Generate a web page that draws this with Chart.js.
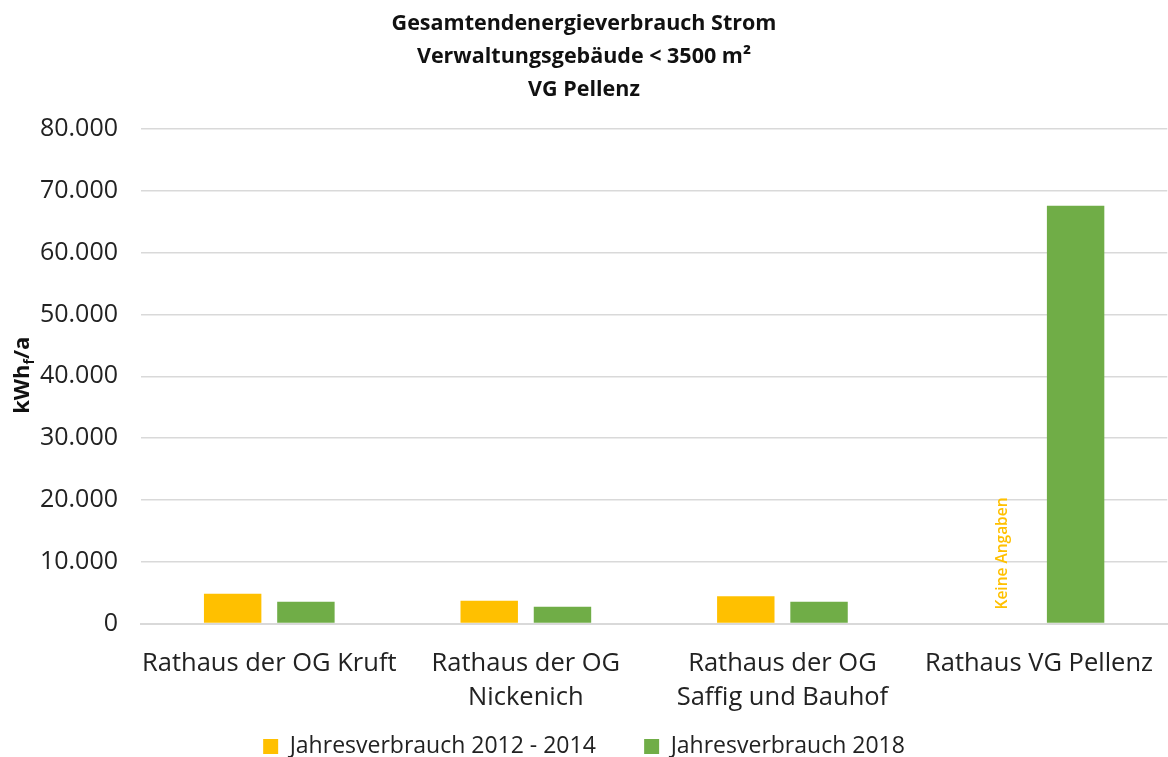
<!DOCTYPE html>
<html>
<head>
<meta charset="utf-8">
<script src="https://cdn.jsdelivr.net/npm/chart.js@4"></script>
<style>
  html, body { margin: 0; padding: 0; background: #fff; }
  #wrap { width: 1168px; height: 757px; }
</style>
</head>
<body>
<div id="wrap"><canvas id="chart" width="1168" height="757"></canvas></div>
<script>
const titleLines = ["Gesamtendenergieverbrauch Strom", "Verwaltungsgebäude < 3500 m²", "VG Pellenz"];
const categories = [
  ["Rathaus der OG Kruft"],
  ["Rathaus der OG", "Nickenich"],
  ["Rathaus der OG", "Saffig und Bauhof"],
  ["Rathaus VG Pellenz"]
];
const seriesNames = ["Jahresverbrauch 2012 - 2014", "Jahresverbrauch 2018"];
const verbrauch2012_2014 = [4800, 3700, 4400, null];
const verbrauch2018 = [3500, 2700, 3500, 67600];
const noDataText = "Keine Angaben";

const FONT = "'Open Sans', 'Liberation Sans', sans-serif";

// German thousands separator: 80000 -> 80.000
const fmt = (v) => String(v).replace(/\B(?=(\d{3})+(?!\d))/g, ".");

// y axis title with subscript f, drawn by hand
const axisTitle = {
  id: "axisTitle",
  afterDraw(chart) {
    const ctx = chart.ctx;
    const area = chart.chartArea;
    const cy = (area.top + area.bottom) / 2 - 1;
    ctx.save();
    ctx.translate(23, cy);
    ctx.rotate(-Math.PI / 2);
    ctx.fillStyle = "#111";
    ctx.textBaseline = "middle";
    const big = "bold 22px " + FONT, small = "bold 14px " + FONT;
    ctx.font = big;
    const w1 = ctx.measureText("kWh").width;
    const w3 = ctx.measureText("/a").width;
    ctx.font = small;
    const w2 = ctx.measureText("f").width;
    let x = -(w1 + w2 + w3) / 2;
    ctx.font = big;
    ctx.textAlign = "left";
    ctx.fillText("kWh", x, 0);
    x += w1;
    ctx.font = small;
    ctx.fillText("f", x, 7);
    x += w2;
    ctx.font = big;
    ctx.fillText("/a", x, 0);
    ctx.restore();
  }
};

// "Keine Angaben" where the first series has no value
const noDataLabel = {
  id: "noDataLabel",
  afterDatasetsDraw(chart) {
    const meta = chart.getDatasetMeta(0);
    const y0 = chart.scales.y.getPixelForValue(0);
    const ctx = chart.ctx;
    verbrauch2012_2014.forEach((v, i) => {
      if (v !== null) return;
      const el = meta.data[i];
      if (!el) return;
      ctx.save();
      ctx.translate(el.x, y0 - 14);
      ctx.rotate(-Math.PI / 2);
      ctx.font = "600 15.5px " + FONT;
      ctx.fillStyle = "#FFC000";
      ctx.textAlign = "left";
      ctx.textBaseline = "middle";
      ctx.fillText(noDataText, 0, 0);
      ctx.restore();
    });
  }
};

new Chart(document.getElementById("chart"), {
  type: "bar",
  data: {
    labels: categories,
    datasets: [
      {
        label: seriesNames[0],
        data: verbrauch2012_2014,
        backgroundColor: "#FFC000",
        categoryPercentage: 0.571,
        barPercentage: 0.784
      },
      {
        label: seriesNames[1],
        data: verbrauch2018,
        backgroundColor: "#70AD47",
        categoryPercentage: 0.571,
        barPercentage: 0.784
      }
    ]
  },
  options: {
    responsive: false,
    animation: false,
    devicePixelRatio: 1,
    layout: { padding: { top: 7, right: 0, bottom: -11, left: 0 } },
    plugins: {
      title: {
        display: true,
        text: titleLines,
        color: "#111",
        font: { family: FONT, size: 21.5, weight: "bold", lineHeight: 1.535 },
        padding: { top: 0, bottom: 23 }
      },
      legend: {
        position: "bottom",
        labels: {
          color: "#222",
          font: { family: FONT, size: 23 },
          boxWidth: 15,
          boxHeight: 15,
          padding: 10,
          // wider gap between the two entries, as in the original
          generateLabels(chart) {
            const items = Chart.defaults.plugins.legend.labels.generateLabels(chart);
            items.forEach((it, i) => {
              if (i < items.length - 1) it.text += "\u2003\u2002\u2009";
            });
            return items;
          }
        }
      },
      tooltip: { enabled: false }
    },
    scales: {
      x: {
        afterFit(s) { s.height = 101.5; },
        grid: { display: false },
        border: { display: true, color: "#d9d9d9", width: 2 },
        ticks: {
          color: "#222",
          font: { family: FONT, size: 25.5, lineHeight: 1.33 },
          padding: 15,
          maxRotation: 0,
          autoSkip: false
        }
      },
      y: {
        min: 0,
        max: 80000,
        afterFit(s) { s.width = 141; },
        grid: { color: "#d9d9d9", lineWidth: 1.5, drawTicks: false },
        border: { display: false },
        ticks: {
          stepSize: 10000,
          color: "#222",
          font: { family: FONT, size: 25 },
          padding: 23,
          callback: (v) => fmt(v)
        }
      }
    }
  },
  plugins: [axisTitle, noDataLabel]
});
</script>
</body>
</html>
